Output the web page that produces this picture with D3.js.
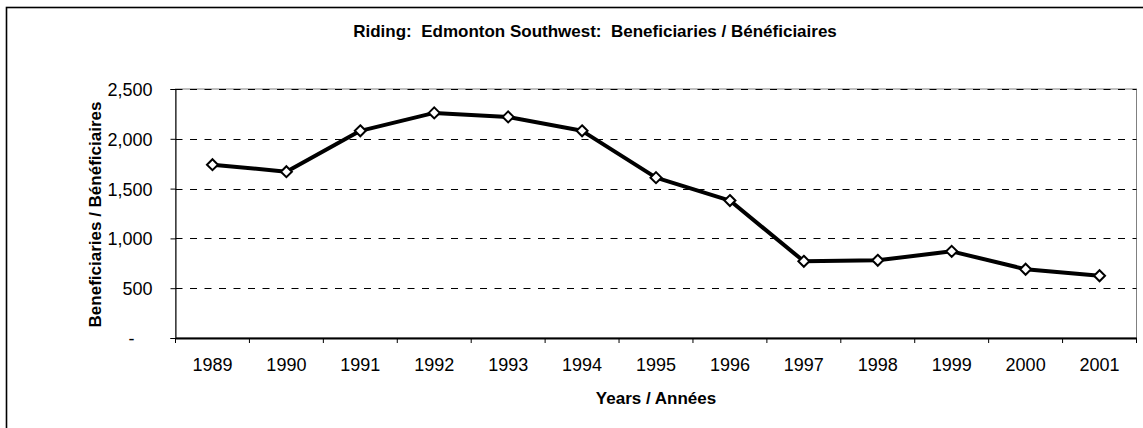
<!DOCTYPE html>
<html>
<head>
<meta charset="utf-8">
<script src="https://cdn.jsdelivr.net/npm/d3@7"></script>
<style>
  body { margin: 0; background: #fff; }
  svg { display: block; }
  .tick-label { font-family: "Liberation Sans", Arial, sans-serif; font-size: 18px; fill: #000; }
  .chart-title { font-family: "Liberation Sans Narrow", "Arial Narrow", "Liberation Sans", sans-serif; font-weight: bold; font-size: 17px; fill: #000; white-space: pre; }
</style>
</head>
<body>
<svg id="chart" width="1143" height="428"></svg>
<script>
const years = ["1989", "1990", "1991", "1992", "1993", "1994", "1995", "1996", "1997", "1998", "1999", "2000", "2001"];
const beneficiaries = [1740, 1670, 2080, 2260, 2220, 2080, 1610, 1380, 770, 780, 870, 690, 625];
const yTicks = [0, 500, 1000, 1500, 2000, 2500];

const titleText = "Riding:  Edmonton Southwest:  Beneficiaries / Bénéficiaires";
const xTitle = "Years / Années";
const yTitle = "Beneficiaries / Bénéficiaires";

const svg = d3.select("#chart");

const plot = { left: 175.5, right: 1136.5, top: 89, bottom: 338 };

const x = d3.scaleBand().domain(years).range([plot.left, plot.right]).padding(0);
const y = d3.scaleLinear().domain([0, 2500]).range([plot.bottom, plot.top]);

// outer chart frame (cropped on the right and bottom in the original)
svg.append("rect")
  .attr("x", 6.5)
  .attr("y", 7.5)
  .attr("width", 1200)
  .attr("height", 450)
  .attr("fill", "none")
  .attr("stroke", "#000")
  .attr("stroke-width", 1.6);

// title
svg.append("text")
  .attr("class", "chart-title")
  .attr("x", 595)
  .attr("y", 37)
  .attr("text-anchor", "middle")
  .text(titleText);

// plot area border
svg.append("rect")
  .attr("x", plot.left)
  .attr("y", plot.top)
  .attr("width", plot.right - plot.left)
  .attr("height", plot.bottom - plot.top)
  .attr("fill", "none")
  .attr("stroke", "#808080")
  .attr("stroke-width", 1);

// dashed gridlines
svg.append("g")
  .selectAll("line")
  .data(yTicks.filter(d => d > 0))
  .join("line")
  .attr("x1", plot.left)
  .attr("x2", plot.right)
  .attr("y1", d => Math.round(y(d)) + 0.5)
  .attr("y2", d => Math.round(y(d)) + 0.5)
  .attr("stroke", "#000")
  .attr("stroke-width", 1)
  .attr("stroke-dasharray", "7,7.5");

// y axis
const yAxis = svg.append("g")
  .attr("transform", `translate(${plot.left},0)`)
  .call(
    d3.axisLeft(y)
      .tickValues(yTicks)
      .tickSize(5)
      .tickPadding(18)
      .tickFormat(d => (d === 0 ? "-" : d3.format(",")(d)))
  );
yAxis.select(".domain").attr("stroke", "#000").attr("stroke-width", 1);
yAxis.selectAll(".tick line").attr("stroke", "#000");
yAxis.selectAll(".tick text")
  .attr("class", "tick-label")
  .attr("font-family", null)
  .attr("font-size", null)
  .attr("dy", "0.36em")
  .attr("x", d => (d === 0 ? -41 : -23));

// x axis: labels centred in each band, ticks at band boundaries
const xAxis = svg.append("g")
  .attr("transform", `translate(0,${plot.bottom})`)
  .call(d3.axisBottom(x).tickSize(0).tickPadding(20));
xAxis.select(".domain").attr("stroke", "#000").attr("stroke-width", 2);
xAxis.selectAll(".tick text")
  .attr("class", "tick-label")
  .attr("font-family", null)
  .attr("font-size", null)
  .attr("dy", "0.71em")
  .attr("y", 20);

const boundaries = years.map(d => x(d)).concat([x.range()[1]]);
xAxis.append("g")
  .selectAll("line")
  .data(boundaries)
  .join("line")
  .attr("x1", d => d)
  .attr("x2", d => d)
  .attr("y1", 0)
  .attr("y2", 5)
  .attr("stroke", "#000");

// axis titles
svg.append("text")
  .attr("class", "chart-title")
  .attr("x", (plot.left + plot.right) / 2)
  .attr("y", 404)
  .attr("text-anchor", "middle")
  .text(xTitle);

svg.append("text")
  .attr("class", "chart-title")
  .attr("transform", `translate(101,${(plot.top + plot.bottom) / 2 + 1}) rotate(-90)`)
  .attr("text-anchor", "middle")
  .text(yTitle);

// series line
const points = years.map((yr, i) => ({ year: yr, value: beneficiaries[i] }));
const cx = d => x(d.year) + x.bandwidth() / 2;

svg.append("path")
  .datum(points)
  .attr("fill", "none")
  .attr("stroke", "#000")
  .attr("stroke-width", 4)
  .attr("stroke-linejoin", "round")
  .attr("d", d3.line().x(cx).y(d => y(d.value)));

// diamond markers
svg.append("g")
  .selectAll("path")
  .data(points)
  .join("path")
  .attr("transform", d => `translate(${cx(d)},${y(d.value)})`)
  .attr("d", "M0,-5.5L5.5,0L0,5.5L-5.5,0Z")
  .attr("fill", "#fff")
  .attr("stroke", "#000")
  .attr("stroke-width", 2);
</script>
</body>
</html>
